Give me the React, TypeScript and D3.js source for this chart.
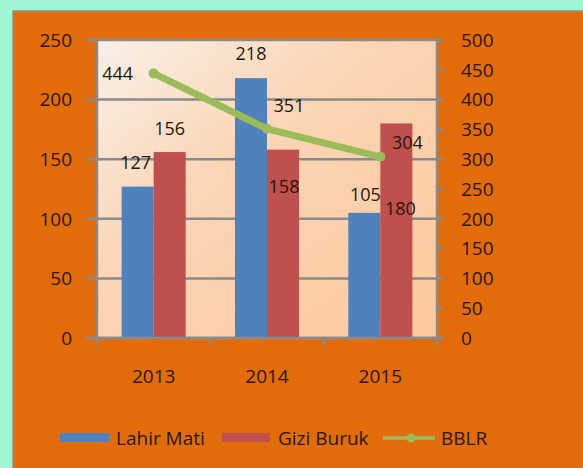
import * as d3 from "d3";

const years = ["2013", "2014", "2015"];
const seriesNames = ["Lahir Mati", "Gizi Buruk"];
const lahirMati = [127, 218, 105];
const giziBuruk = [156, 158, 180];
const bblr = [444, 351, 304];
const leftTicks = [0, 50, 100, 150, 200, 250];
const rightTicks = [0, 50, 100, 150, 200, 250, 300, 350, 400, 450, 500];

// manual label nudges (dx, dy from the anchor), like the hand-placed Excel labels
const barLabelShift = [
  [[-2, -24], [0, -24]],
  [[0, -25], [1, 37]],
  [[1, -18], [4, 85]],
];
const lineLabelShift = [[-36, 0], [22, -23], [27, -14]];

const W = 583;
const H = 468;
const FONT = "'Open Sans', sans-serif";
const TEXT = "#26170b";
const GRID = "#8a8a8a";
const colors = { blue: "#4f81bd", red: "#c0504d", green: "#9bbb59" };

const App = () => {
  const plot = { left: 97, right: 437, top: 40, bottom: 338 };

  const x = d3.scaleBand().domain(years).range([plot.left, plot.right]);
  const xs = d3
    .scaleBand()
    .domain(seriesNames)
    .range([0, x.bandwidth()])
    .paddingOuter(0.77);
  const yL = d3.scaleLinear().domain([0, 250]).range([plot.bottom, plot.top]);
  const yR = d3.scaleLinear().domain([0, 500]).range([plot.bottom, plot.top]);

  const line = d3
    .line<number>()
    .x((_d, i) => (x(years[i]) ?? 0) + x.bandwidth() / 2)
    .y((d) => yR(d));

  const series = [
    { name: seriesNames[0], values: lahirMati, color: colors.blue },
    { name: seriesNames[1], values: giziBuruk, color: colors.red },
  ];

  return (
    <svg
      width={W}
      height={H}
      style={{ position: "absolute", left: 0, top: 0 }}
      fontFamily={FONT}
    >
      <defs>
        <linearGradient id="plotbg" x1="0" y1="0" x2="1" y2="1">
          <stop offset="0" stopColor="#f8f0e8" />
          <stop offset="0.4" stopColor="#fbd5b5" />
          <stop offset="1" stopColor="#fcc89c" />
        </linearGradient>
      </defs>
      <rect width={W} height={H} fill="#9ff6d3" />
      <rect x={13} y={11} width={W} height={H} fill="#e36c0a" stroke="#8f8f8f" strokeWidth={1.5} />

      {/* plot area */}
      <rect
        x={plot.left}
        y={plot.top}
        width={plot.right - plot.left}
        height={plot.bottom - plot.top}
        fill="url(#plotbg)"
      />

      {/* gridlines + left axis */}
      {leftTicks.map((t) => (
        <g key={"l" + t}>
          <line x1={plot.left - 11} x2={plot.right + 6} y1={yL(t)} y2={yL(t)} stroke={GRID} strokeWidth={2.5} />
          <text x={72} y={yL(t)} dy="0.36em" textAnchor="end" fontSize={19} fill={TEXT}>
            {t}
          </text>
        </g>
      ))}
      {/* right axis */}
      {rightTicks.map((t) => (
        <g key={"r" + t}>
          <line x1={plot.right} x2={plot.right + 6} y1={yR(t)} y2={yR(t)} stroke={GRID} strokeWidth={2.5} />
          <text x={461} y={yR(t)} dy="0.36em" fontSize={19} fill={TEXT}>
            {t}
          </text>
        </g>
      ))}
      <line x1={plot.left} x2={plot.left} y1={plot.top} y2={plot.bottom} stroke={GRID} strokeWidth={2.5} />
      <line x1={plot.right} x2={plot.right} y1={plot.top} y2={plot.bottom} stroke={GRID} strokeWidth={2.5} />

      {/* bars */}
      {series.map((s) =>
        s.values.map((v, i) => (
          <rect
            key={s.name + i}
            x={(x(years[i]) ?? 0) + (xs(s.name) ?? 0)}
            y={yL(v)}
            width={xs.bandwidth()}
            height={yL(0) - yL(v)}
            fill={s.color}
          />
        ))
      )}

      {/* x axis */}
      <line x1={plot.left - 11} x2={plot.right + 6} y1={plot.bottom} y2={plot.bottom} stroke={GRID} strokeWidth={2.5} />
      {[...years.map((y) => x(y) ?? 0), plot.right].map((px, i) => (
        <line key={"xt" + i} x1={px} x2={px} y1={plot.bottom} y2={plot.bottom + 7} stroke={GRID} strokeWidth={2.5} />
      ))}
      {years.map((y) => (
        <text
          key={y}
          x={(x(y) ?? 0) + x.bandwidth() / 2}
          y={376}
          dy="0.36em"
          textAnchor="middle"
          fontSize={19}
          fill={TEXT}
        >
          {y}
        </text>
      ))}

      {/* line series */}
      <path
        d={line(bblr) ?? ""}
        fill="none"
        stroke={colors.green}
        strokeWidth={7}
        strokeLinecap="round"
        strokeLinejoin="round"
      />
      {bblr.map((v, i) => (
        <circle key={"m" + i} cx={(x(years[i]) ?? 0) + x.bandwidth() / 2} cy={yR(v)} r={5} fill={colors.green} />
      ))}

      {/* bar labels */}
      {series.map((s, si) =>
        s.values.map((v, i) => (
          <text
            key={"bl" + s.name + i}
            x={(x(years[i]) ?? 0) + (xs(s.name) ?? 0) + xs.bandwidth() / 2 + barLabelShift[i][si][0]}
            y={yL(v) + barLabelShift[i][si][1]}
            dy="0.36em"
            textAnchor="middle"
            fontSize={18}
            fill={TEXT}
          >
            {v}
          </text>
        ))
      )}
      {/* line labels */}
      {bblr.map((v, i) => (
        <text
          key={"ll" + i}
          x={(x(years[i]) ?? 0) + x.bandwidth() / 2 + lineLabelShift[i][0]}
          y={yR(v) + lineLabelShift[i][1]}
          dy="0.36em"
          textAnchor="middle"
          fontSize={18}
          fill={TEXT}
        >
          {v}
        </text>
      ))}

      {/* legend */}
      <g fontSize={19} fill={TEXT}>
        <rect x={60} y={433} width={49} height={9} fill={colors.blue} />
        <text x={116} y={438} dy="0.36em">Lahir Mati</text>
        <rect x={222} y={433} width={48} height={9} fill={colors.red} />
        <text x={278} y={438} dy="0.36em">Gizi Buruk</text>
        <line x1={383} x2={435} y1={438} y2={438} stroke={colors.green} strokeWidth={3.5} />
        <circle cx={411} cy={438} r={4.5} fill={colors.green} />
        <text x={441} y={438} dy="0.36em">BBLR</text>
      </g>
    </svg>
  );
};

export default App;
